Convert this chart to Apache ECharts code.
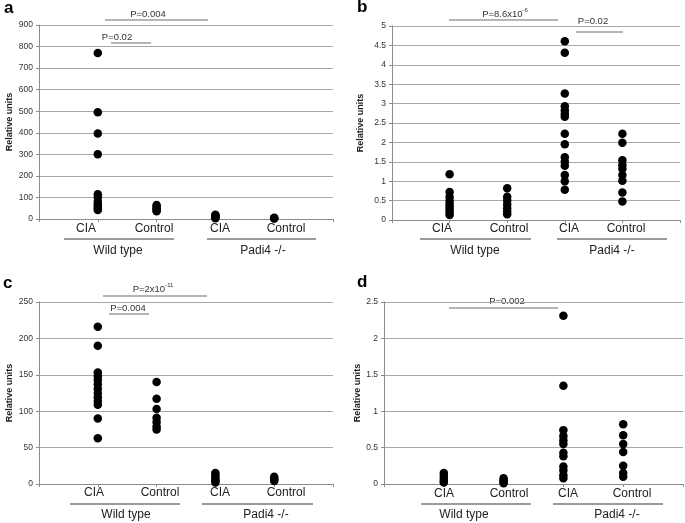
<!DOCTYPE html>
<html><head><meta charset="utf-8">
<script src="https://cdn.jsdelivr.net/npm/echarts@6/dist/echarts.min.js"></script>
<style>html,body{margin:0;padding:0;background:#fff}#c{width:685px;height:523px}</style>
</head><body><div id="c"></div>
<script>
// ---- data ----
const catLabels = ['CIA', 'Control', 'CIA', 'Control'];
const groupLabels = ['Wild type', 'Padi4 -/-'];
const yTicksA = [0, 900, 100];
const yTicksB = [0, 5, 0.5];
const yTicksC = [0, 250, 50];
const yTicksD = [0, 2.5, 0.5];

const aWtCia = [770, 495, 397, 300, 115, 100, 80, 70, 60, 50, 42];
const aWtCtrl = [65, 58, 50, 42, 36];
const aPadiCia = [20, 15, 10, 6, 3];
const aPadiCtrl = [6, 4, 2];

const bWtCia = [1.18, 0.72, 0.6, 0.5, 0.42, 0.35, 0.28, 0.2, 0.13];
const bWtCtrl = [0.82, 0.6, 0.5, 0.4, 0.3, 0.22, 0.15];
const bPadiCia = [4.61, 4.31, 3.26, 2.93, 2.83, 2.73, 2.66, 2.22, 1.95, 1.62, 1.5, 1.4, 1.16, 1.0, 0.78];
const bPadiCtrl = [2.22, 1.99, 1.54, 1.42, 1.32, 1.16, 1.01, 0.71, 0.48];

const cWtCia = [216, 190, 153, 148, 143, 137, 131, 125, 119, 114, 109, 90, 63];
const cWtCtrl = [140, 117, 103, 91, 85, 79, 75];
const cPadiCia = [15, 12, 9, 6, 4, 2];
const cPadiCtrl = [10, 8, 6, 4];

const dWtCia = [0.15, 0.11, 0.07, 0.04, 0.02];
const dWtCtrl = [0.08, 0.05, 0.03, 0.01];
const dPadiCia = [2.31, 1.35, 0.74, 0.66, 0.6, 0.55, 0.43, 0.38, 0.24, 0.19, 0.12, 0.08];
const dPadiCtrl = [0.82, 0.67, 0.55, 0.44, 0.25, 0.15, 0.1];

const panels = [
  {letter: 'a', groups: [aWtCia, aWtCtrl, aPadiCia, aPadiCtrl], y: yTicksA},
  {letter: 'b', groups: [bWtCia, bWtCtrl, bPadiCia, bPadiCtrl], y: yTicksB},
  {letter: 'c', groups: [cWtCia, cWtCtrl, cPadiCia, cPadiCtrl], y: yTicksC},
  {letter: 'd', groups: [dWtCia, dWtCtrl, dPadiCia, dPadiCtrl], y: yTicksD}
];

// ---- layout ----
const FONT = '"Liberation Sans", Arial, sans-serif';
const grids = [
  {left: 39, top: 25, width: 294, height: 194},
  {left: 392, top: 26, width: 288, height: 194},
  {left: 39, top: 302, width: 294, height: 182},
  {left: 384, top: 302, width: 299, height: 182}
];
const nameGaps = [25, 27, 25, 22];
const lay = [
  {cx: [86, 154, 220, 286], cy: 229, gl: [[64, 174], [207, 316]], gy: 239, gx: [118, 263], gty: 251, lx: 4, ly: 9},
  {cx: [442, 509, 569, 626], cy: 229, gl: [[420, 531], [557, 667]], gy: 239, gx: [475, 612], gty: 251, lx: 357, ly: 8},
  {cx: [94, 160, 220, 286], cy: 493, gl: [[70, 180], [202, 313]], gy: 504, gx: [126, 266], gty: 515, lx: 3, ly: 284},
  {cx: [444, 509, 568, 632], cy: 494, gl: [[421, 531], [553, 663]], gy: 504, gx: [464, 617], gty: 515, lx: 357, ly: 283}
];
const pvals = [
  ['{b|P=0.004}', 148, 13, 105, 208, 20],
  ['{b|P=0.02}', 117, 36, 111, 151, 43],
  ['{b|P=8.6x10}{s|-6}', 505, 13, 449, 558, 20],
  ['{b|P=0.02}', 593, 20, 576, 623, 32],
  ['{b|P=2x10}{s|-11}', 153, 288, 103, 207, 296],
  ['{b|P=0.004}', 128, 307, 109, 149, 314],
  ['{b|P=0.002}', 507, 300, 449, 558, 308]
];

const xAxis = [], yAxis = [], series = [], graphic = [];
panels.forEach((p, i) => {
  xAxis.push({
    type: 'value', gridIndex: i, min: 0, max: 5, interval: 1,
    axisLabel: {show: false}, splitLine: {show: false},
    axisLine: {show: true, lineStyle: {color: '#8c8c8c', width: 1}},
    axisTick: {show: true, length: 3, lineStyle: {color: '#8c8c8c'}}
  });
  yAxis.push({
    type: 'value', gridIndex: i, min: p.y[0], max: p.y[1], interval: p.y[2],
    name: 'Relative units', nameLocation: 'middle', nameRotate: 90, nameGap: nameGaps[i],
    nameTextStyle: {fontFamily: FONT, fontSize: 9, fontWeight: 'bold', color: '#222'},
    axisLine: {show: true, lineStyle: {color: '#8c8c8c', width: 1}},
    axisTick: {show: true, length: 3, lineStyle: {color: '#8c8c8c'}},
    axisLabel: {fontFamily: FONT, fontSize: 8.5, color: '#333', margin: 6},
    splitLine: {show: true, lineStyle: {color: '#a8a8a8', width: 1}}
  });
  p.groups.forEach((vals, k) => {
    series.push({
      type: 'scatter', xAxisIndex: i, yAxisIndex: i,
      symbol: 'circle', symbolSize: 8.5, itemStyle: {color: '#000', opacity: 1},
      data: vals.map(v => [k + 1, v]), silent: true, clip: false
    });
  });
  const L = lay[i];
  graphic.push({type: 'text', left: L.lx, top: L.ly - 9,
    style: {text: p.letter, font: 'bold 17px ' + FONT, fill: '#000'}});
  catLabels.forEach((c, k) => {
    graphic.push({type: 'text', x: L.cx[k], y: L.cy,
      style: {text: c, font: '12px ' + FONT, fill: '#222', align: 'center', verticalAlign: 'middle'}});
  });
  groupLabels.forEach((g, k) => {
    graphic.push({type: 'line', shape: {x1: L.gl[k][0], y1: L.gy, x2: L.gl[k][1], y2: L.gy},
      style: {stroke: '#7a7a7a', lineWidth: 1.5}});
    graphic.push({type: 'text', x: L.gx[k], y: L.gty,
      style: {text: g, font: '12px ' + FONT, fill: '#222', align: 'center', verticalAlign: 'middle'}});
  });
});
pvals.forEach(pv => {
  graphic.push({type: 'line', shape: {x1: pv[3], y1: pv[5], x2: pv[4], y2: pv[5]},
    style: {stroke: '#6e6e6e', lineWidth: 1.2}});
  graphic.push({type: 'text', x: pv[1], y: pv[2],
    style: {text: pv[0], align: 'center', verticalAlign: 'middle',
      rich: {
        b: {fontFamily: FONT, fontSize: 9.5, fill: '#333', lineHeight: 12, verticalAlign: 'bottom'},
        s: {fontFamily: FONT, fontSize: 6, fill: '#333', lineHeight: 12, verticalAlign: 'top', padding: [0, 0, 5, 0]}
      }}});
});

const chart = echarts.init(document.getElementById('c'), null, {renderer: 'canvas'});
chart.setOption({
  animation: false,
  backgroundColor: '#fff',
  grid: grids,
  xAxis: xAxis,
  yAxis: yAxis,
  series: series,
  graphic: graphic
});
</script></body></html>
